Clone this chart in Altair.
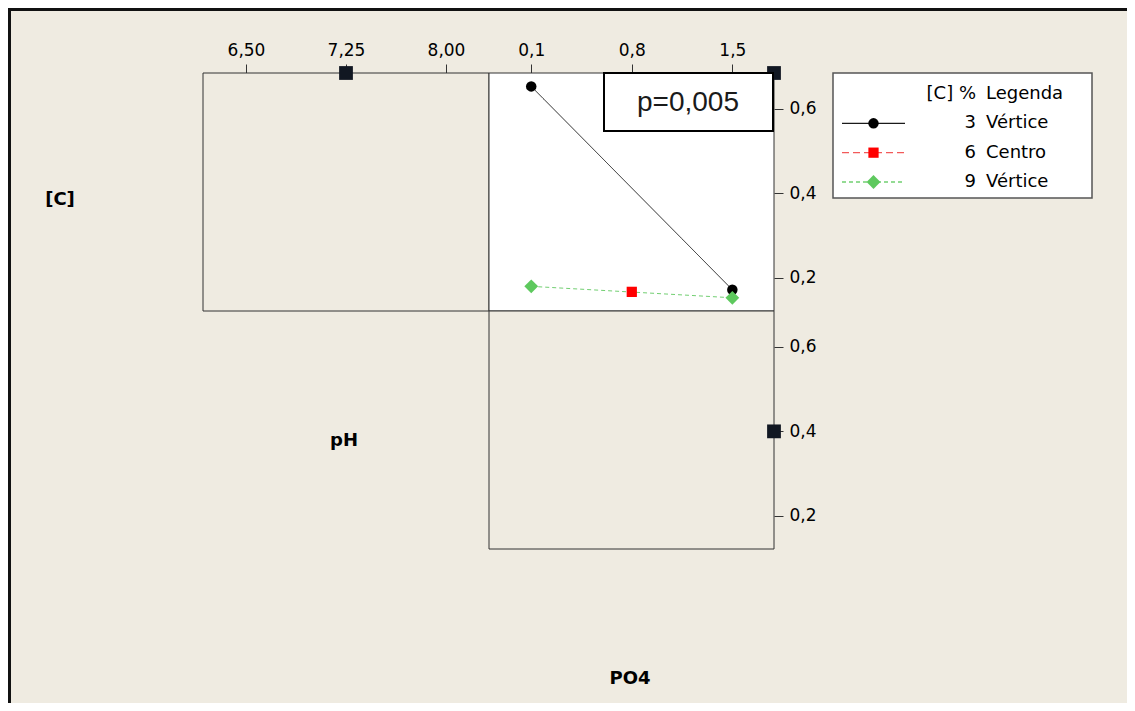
import altair as alt
import pandas as pd

# ---------------- data ----------------
series_keys = ["3", "6", "9"]
series_names = ["Vértice", "Centro", "Vértice"]

po4_s3 = [0.1, 1.5]
c_s3 = [0.653, 0.172]
po4_s6 = [0.8]
c_s6 = [0.167]
po4_s9 = [0.1, 1.5]
c_s9 = [0.180, 0.153]

ph_ticks = [6.50, 7.25, 8.00]
po4_ticks = [0.1, 0.8, 1.5]
c_ticks = [0.2, 0.4, 0.6]

ph_domain = [6.1775, 8.3225]
po4_domain = [-0.194, 1.79]
c_domain = [0.1217, 0.6847]

ph_marker = [7.25]
ph_c_marker = [0.4]

# ---------------- styling / layout ----------------
BG = "#EFEBE1"
W, H = 1119, 695
XA = [195, 481]
XB = [481, 766]
YT = [303, 65]
YBOT = [541, 303]
FONT = "DejaVu Sans"
LINE_COLORS = ["#1a1a1a", "#F25A5A", "#72CF72"]
FILL_COLORS = ["#000000", "#FF0000", "#5EC95E"]
SHAPES = ["circle", "square", "diamond"]
DASHES = [[1, 0], [7, 4], [4, 3]]
SIZES = [110, 105, 190]

stroke_scale = alt.Scale(domain=series_keys, range=LINE_COLORS)
dash_scale = alt.Scale(domain=series_keys, range=DASHES)

pts = pd.DataFrame({
    "series": ["3"] * len(po4_s3) + ["6"] * len(po4_s6) + ["9"] * len(po4_s9),
    "x": po4_s3 + po4_s6 + po4_s9,
    "y": c_s3 + c_s6 + c_s9,
})
lines = pts[pts["series"] != "6"]

comma2 = "replace(format(datum.value, '.2f'), '.', ',')"
comma1 = "replace(format(datum.value, '.1f'), '.', ',')"

def top_axis(values, expr):
    return alt.Axis(orient="top", values=values, labelExpr=expr, offset=-65,
                    tickSize=9, tickColor="#333333", domain=False, grid=False,
                    labelPadding=5, labelFlush=False, labelOverlap=False, title=None)

def right_axis(values):
    return alt.Axis(orient="right", values=values, labelExpr=comma1, offset=766 - W,
                    tickSize=9, tickColor="#333333", domain=False, grid=False,
                    labelPadding=6, labelFlush=False, labelOverlap=False, title=None)

# scales
sxA = alt.Scale(domain=ph_domain, range=XA, nice=False, zero=False)
sxB = alt.Scale(domain=po4_domain, range=XB, nice=False, zero=False)
syT = alt.Scale(domain=c_domain, range=YT, nice=False, zero=False)
syB = alt.Scale(domain=c_domain, range=YBOT, nice=False, zero=False)

axA = top_axis(ph_ticks, comma2)
axB = top_axis(po4_ticks, comma1)
ayB = right_axis(c_ticks)
ayC = right_axis(c_ticks)

def frame_df(xd, yd):
    return pd.DataFrame({"x": [xd[0]], "x2": [xd[1]], "y": [yd[0]], "y2": [yd[1]]})

# ---- panel A: pH (x) vs [C] ----
frameA = alt.Chart(frame_df(ph_domain, c_domain)).mark_rect(
    fill=BG, stroke="#333333", strokeWidth=1).encode(
    x=alt.X("x:Q", scale=sxA, axis=axA), x2="x2",
    y=alt.Y("y:Q", scale=syT, axis=None), y2="y2")
markA = alt.Chart(pd.DataFrame({"x": ph_marker, "y": [c_domain[1]]})).mark_point(
    shape="square", filled=True, size=190, color="#111722", opacity=1).encode(
    x=alt.X("x:Q", scale=sxA, axis=axA),
    y=alt.Y("y:Q", scale=syT, axis=None))
panelA = alt.layer(frameA, markA)

# ---- panel B: PO4 (x) vs [C] ----
frameB = alt.Chart(frame_df(po4_domain, c_domain)).mark_rect(
    fill="#FFFFFF", stroke="#333333", strokeWidth=1).encode(
    x=alt.X("x:Q", scale=sxB, axis=axB), x2="x2",
    y=alt.Y("y:Q", scale=syT, axis=ayB), y2="y2")
lineB = alt.Chart(lines).mark_line(strokeWidth=1).encode(
    x=alt.X("x:Q", scale=sxB, axis=axB),
    y=alt.Y("y:Q", scale=syT, axis=ayB),
    stroke=alt.Stroke("series:N", scale=stroke_scale, legend=None),
    strokeDash=alt.StrokeDash("series:N", scale=dash_scale, legend=None),
    detail="series:N")
ptsB_layers = []
for k, shp, fc, sz in zip(series_keys, SHAPES, FILL_COLORS, SIZES):
    ptsB_layers.append(
        alt.Chart(pts).transform_filter(alt.datum.series == k).mark_point(
            shape=shp, filled=True, fill=fc, size=sz, opacity=1, strokeWidth=0).encode(
            x=alt.X("x:Q", scale=sxB, axis=axB),
            y=alt.Y("y:Q", scale=syT, axis=ayB)))
markB = alt.Chart(pd.DataFrame({"x": [po4_domain[1]], "y": [c_domain[1]]})).mark_point(
    shape="square", filled=True, size=190, color="#111722", opacity=1).encode(
    x=alt.X("x:Q", scale=sxB, axis=axB),
    y=alt.Y("y:Q", scale=syT, axis=ayB))
panelB = alt.layer(frameB, lineB, *ptsB_layers, markB)

# ---- panel C: PO4 (x) vs pH ----
frameC = alt.Chart(frame_df(po4_domain, c_domain)).mark_rect(
    fill=BG, stroke="#333333", strokeWidth=1).encode(
    x=alt.X("x:Q", scale=sxB, axis=None), x2="x2",
    y=alt.Y("y:Q", scale=syB, axis=ayC), y2="y2")
markC = alt.Chart(pd.DataFrame({"x": [po4_domain[1]], "y": ph_c_marker})).mark_point(
    shape="square", filled=True, size=190, color="#111722", opacity=1).encode(
    x=alt.X("x:Q", scale=sxB, axis=None),
    y=alt.Y("y:Q", scale=syB, axis=ayC))
panelC = alt.layer(frameC, markC)

# ---- p-value box ----
one = pd.DataFrame({"a": [0]})
pbox = alt.Chart(one).mark_rect(fill="#FFFFFF", stroke="#000000", strokeWidth=2).encode(
    x=alt.value(596), x2=alt.value(765), y=alt.value(65), y2=alt.value(123))
ptext = alt.Chart(pd.DataFrame({"t": ["p=0,005"]})).mark_text(
    font="Liberation Sans", fontSize=28, color="#1a1a1a", align="center", baseline="middle").encode(
    x=alt.value(680), y=alt.value(95), text="t:N")

# ---- legend ----
lsx = alt.Scale(domain=[0, 1], range=[834, 897], nice=False, zero=False)
lsy = alt.Scale(domain=[0, 3], range=[86, 174], nice=False, zero=False)
leg_box = alt.Chart(one).mark_rect(fill="#FFFFFF", stroke="#555555", strokeWidth=1.5).encode(
    x=alt.value(825), x2=alt.value(1084), y=alt.value(65), y2=alt.value(190))
leg_lines_df = pd.DataFrame({
    "series": [k for k in series_keys for _ in range(2)],
    "row": [i + 1 for i in range(3) for _ in range(2)],
    "t": [0, 1] * 3,
})
leg_pts_df = pd.DataFrame({"series": series_keys, "row": [1, 2, 3], "t": [0.5] * 3})
leg_text_df = pd.DataFrame({
    "row": [0, 1, 2, 3],
    "key": ["[C] %"] + series_keys,
    "name": ["Legenda"] + series_names,
})
leg_l = alt.Chart(leg_lines_df).mark_line(strokeWidth=1.3).encode(
    x=alt.X("t:Q", scale=lsx, axis=None),
    y=alt.Y("row:Q", scale=lsy, axis=None),
    stroke=alt.Stroke("series:N", scale=stroke_scale, legend=None),
    strokeDash=alt.StrokeDash("series:N", scale=dash_scale, legend=None),
    detail="series:N")
leg_p_layers = []
for k, shp, fc, sz in zip(series_keys, SHAPES, FILL_COLORS, SIZES):
    leg_p_layers.append(
        alt.Chart(leg_pts_df).transform_filter(alt.datum.series == k).mark_point(
            shape=shp, filled=True, fill=fc, size=sz, opacity=1, strokeWidth=0).encode(
            x=alt.X("t:Q", scale=lsx, axis=None),
            y=alt.Y("row:Q", scale=lsy, axis=None)))
leg_k = alt.Chart(leg_text_df).mark_text(
    font=FONT, fontSize=18, align="right", baseline="middle", color="#000000").encode(
    x=alt.value(968), y=alt.Y("row:Q", scale=lsy, axis=None), text="key:N")
leg_n = alt.Chart(leg_text_df).mark_text(
    font=FONT, fontSize=18, align="left", baseline="middle", color="#000000").encode(
    x=alt.value(978), y=alt.Y("row:Q", scale=lsy, axis=None), text="name:N")
legend = alt.layer(leg_box, leg_l, *leg_p_layers, leg_k, leg_n)

# ---- factor labels ----
labC = alt.Chart(pd.DataFrame({"t": ["[C]"]})).mark_text(
    font=FONT, fontSize=18, fontWeight="bold", align="center", baseline="middle").encode(
    x=alt.value(52), y=alt.value(192), text="t:N")
labPH = alt.Chart(pd.DataFrame({"t": ["pH"]})).mark_text(
    font=FONT, fontSize=18, fontWeight="bold", align="center", baseline="middle").encode(
    x=alt.value(336), y=alt.value(433), text="t:N")
labPO4 = alt.Chart(pd.DataFrame({"t": ["PO4"]})).mark_text(
    font=FONT, fontSize=18, fontWeight="bold", align="center", baseline="middle").encode(
    x=alt.value(622), y=alt.value(671), text="t:N")

# ---- outer frame (left and top edges) ----
frame_left = alt.Chart(one).mark_rule(color="#111111", strokeWidth=3).encode(
    x=alt.value(1.5), y=alt.value(0), y2=alt.value(H))
frame_top = alt.Chart(one).mark_rule(color="#111111", strokeWidth=3).encode(
    x=alt.value(0), x2=alt.value(W), y=alt.value(1.5))

chart = alt.layer(
    frame_left, frame_top, panelA, panelB, panelC, pbox, ptext, legend, labC, labPH, labPO4
).resolve_scale(x="independent", y="independent").properties(
    width=W, height=H, autosize=alt.AutoSizeParams(type="none"), padding=0,
    background=BG
).configure_view(stroke="transparent").configure_axis(
    labelFont=FONT, labelFontSize=17, labelColor="#000000"
)

chart.save("out.html", embed_options={"renderer": "svg", "actions": False})
